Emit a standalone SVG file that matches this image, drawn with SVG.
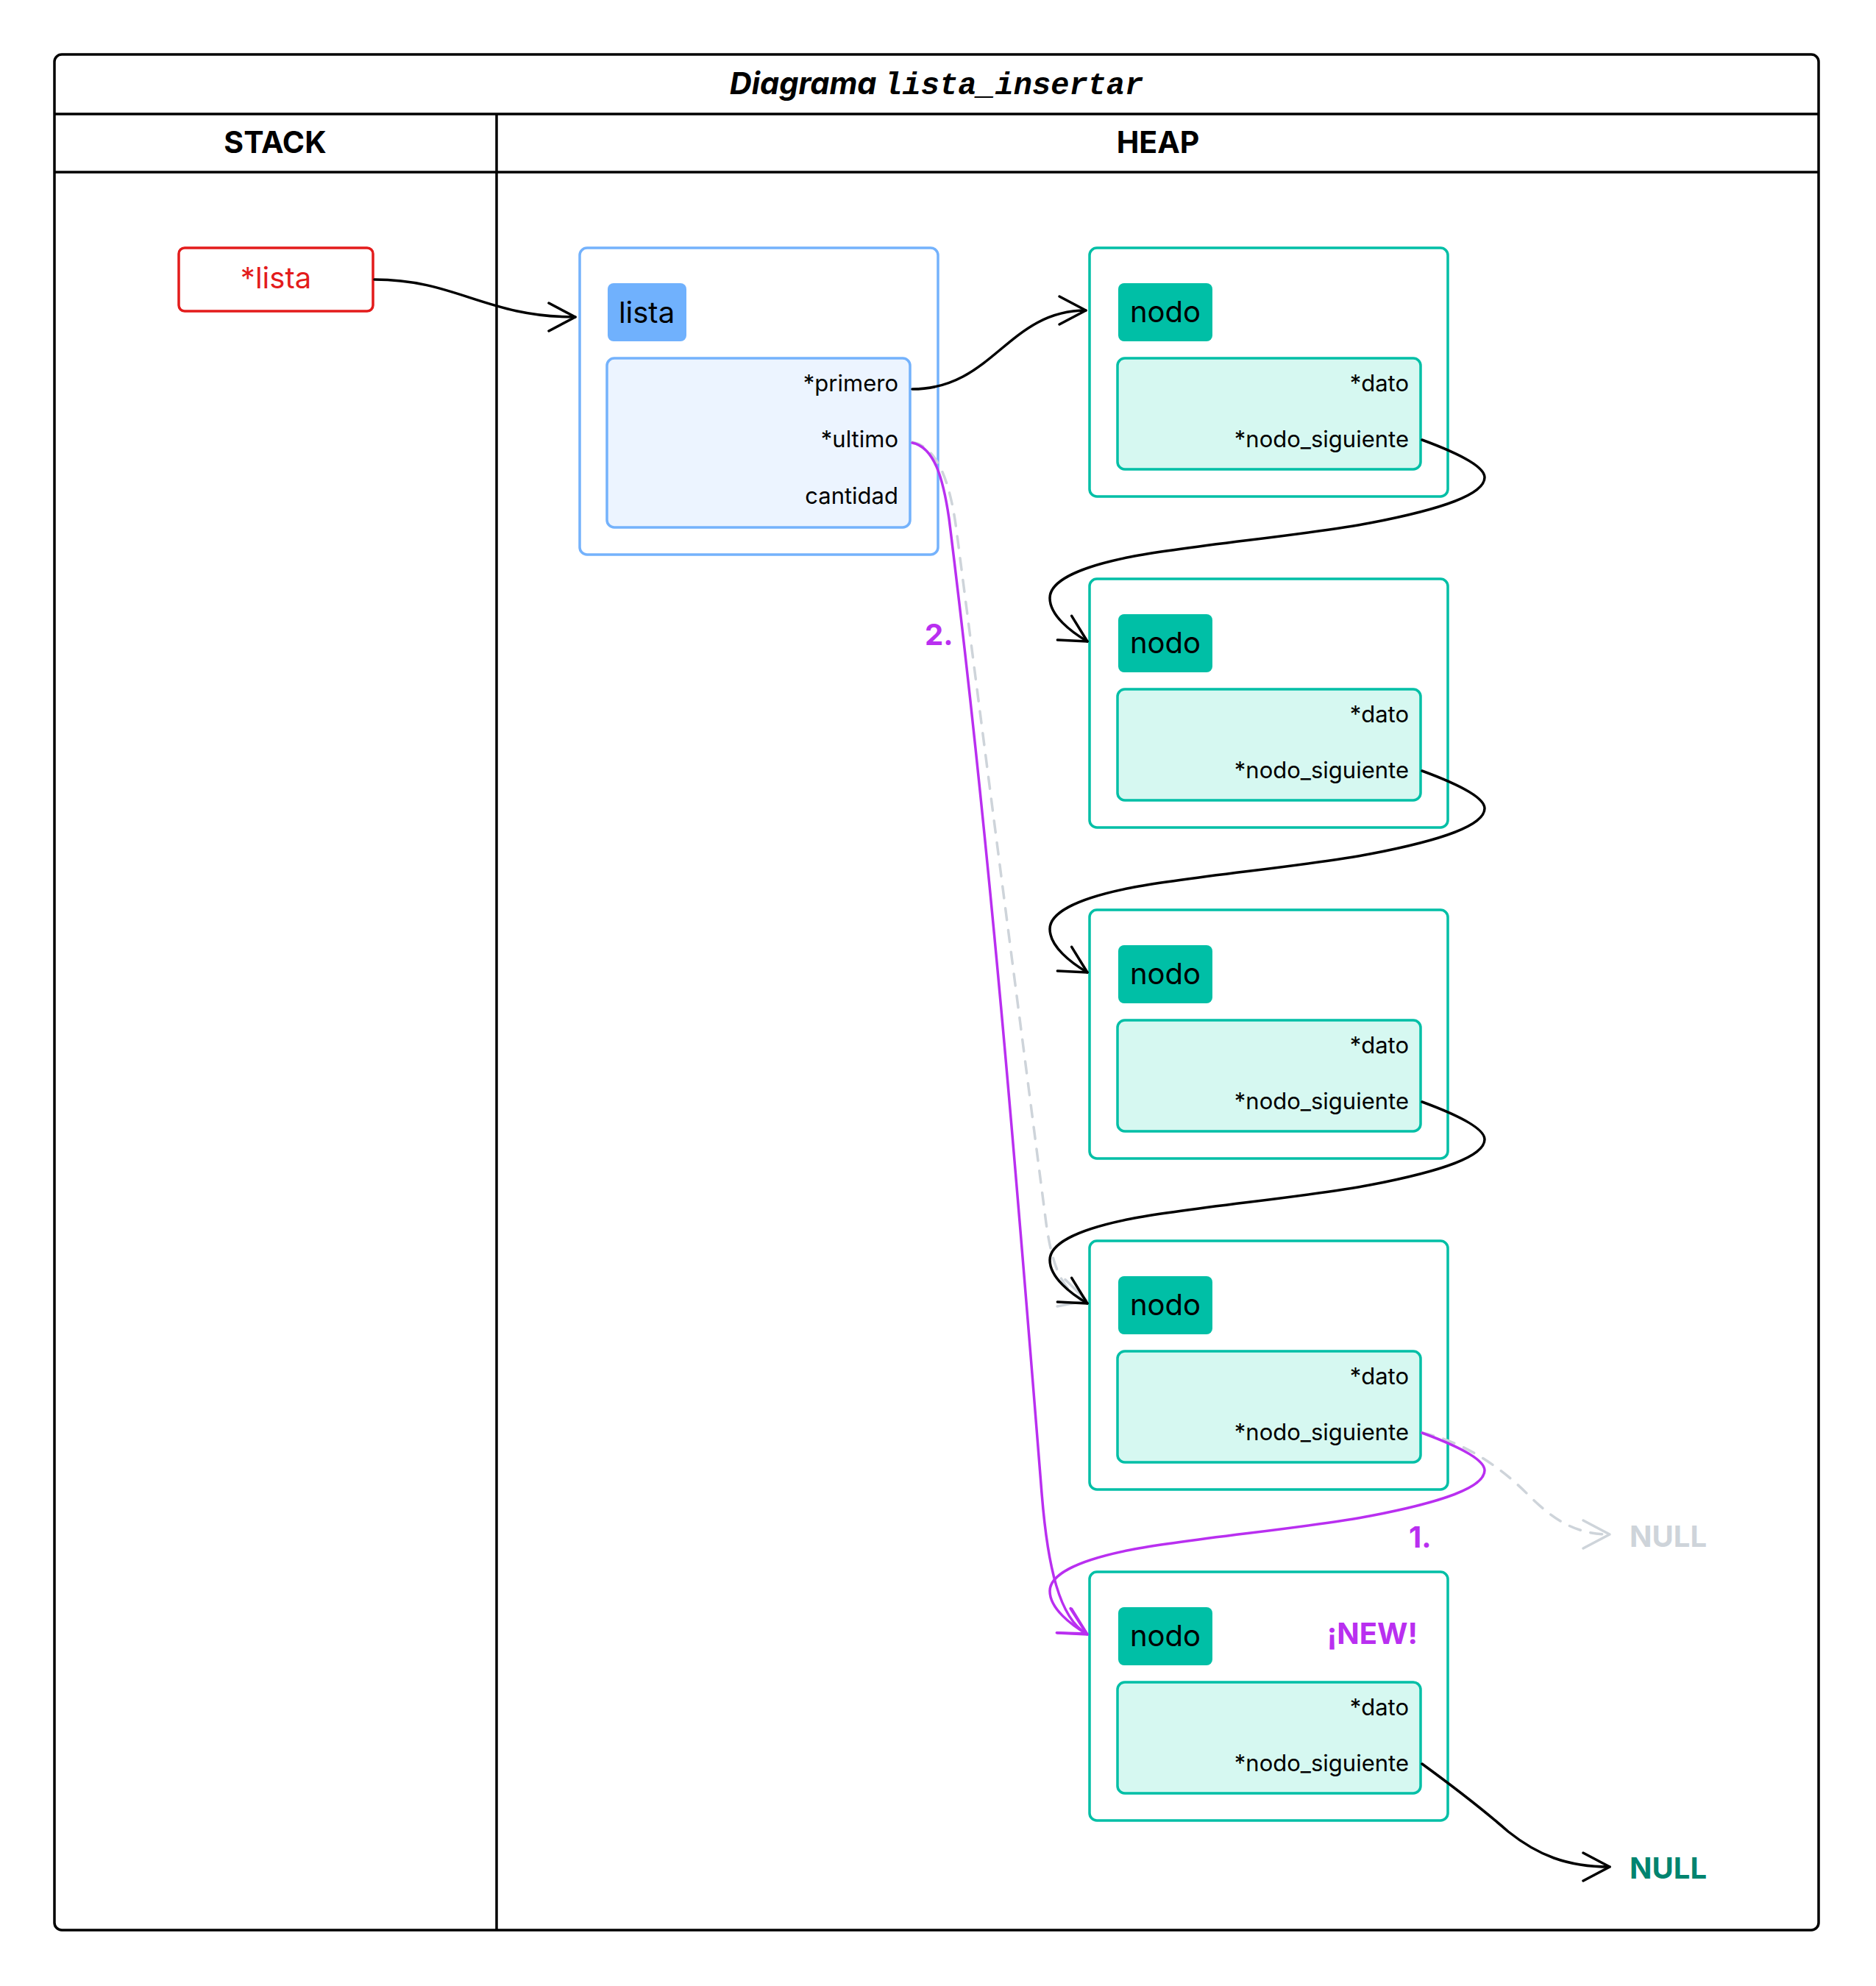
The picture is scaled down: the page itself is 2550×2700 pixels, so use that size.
<svg xmlns="http://www.w3.org/2000/svg" width="2550" height="2700" viewBox="0 0 2550 2700">
  <style>
    .frame { fill: none; stroke: #000; stroke-width: 3.5; }
    .sans { font-family: Inter, "Liberation Sans", sans-serif; }
    .hdr { font-family: Inter, "Liberation Sans", sans-serif; font-size: 41px; font-weight: 700; text-anchor: middle; }
    .box-teal { fill: #fff; stroke: #00bfa6; stroke-width: 3.5; }
    .lbl-teal { fill: #00bfa6; }
    .fields-teal { fill: #d6f8f1; stroke: #00bfa6; stroke-width: 3.5; }
    .box-blue { fill: #fff; stroke: #74b2fc; stroke-width: 3.5; }
    .lbl-blue { fill: #70b1fd; }
    .fields-blue { fill: #ecf4ff; stroke: #74b2fc; stroke-width: 3.5; }
    .lbl-text { font-family: Inter, "Liberation Sans", sans-serif; font-size: 40px; fill: #000; text-anchor: middle; }
    .field { font-family: Inter, "Liberation Sans", sans-serif; font-size: 31px; fill: #000; text-anchor: end; }
    .conn { fill: none; stroke-width: 3.5; stroke-linecap: round; stroke-linejoin: round; }
    .c-black { stroke: #000; marker-end: url(#arrow-black); }
    .c-purple { stroke: #b92ff0; marker-end: url(#arrow-purple); }
    .c-gray { stroke: #ced4da; stroke-dasharray: 16 14; marker-end: url(#arrow-gray); }
    .tag { font-family: Inter, "Liberation Sans", sans-serif; font-size: 40px; font-weight: 700; }
  </style>
  <defs>
    <marker id="arrow-black" markerUnits="userSpaceOnUse" orient="auto" refX="0" refY="0" markerWidth="80" markerHeight="80" viewBox="-40 -40 80 80" overflow="visible">
      <path d="M -36 -19 L 0 0 L -36 19" fill="none" stroke="#000" stroke-width="3.5" stroke-linecap="round" stroke-linejoin="round"/>
    </marker>
    <marker id="arrow-purple" markerUnits="userSpaceOnUse" orient="auto" refX="0" refY="0" markerWidth="80" markerHeight="80" viewBox="-40 -40 80 80" overflow="visible">
      <path d="M -36 -19 L 0 0 L -36 19" fill="none" stroke="#b92ff0" stroke-width="3.5" stroke-linecap="round" stroke-linejoin="round"/>
    </marker>
    <marker id="arrow-gray" markerUnits="userSpaceOnUse" orient="auto" refX="0" refY="0" markerWidth="80" markerHeight="80" viewBox="-40 -40 80 80" overflow="visible">
      <path d="M -36 -19 L 0 0 L -36 19" fill="none" stroke="#ced4da" stroke-width="3.5" stroke-dasharray="none" stroke-linecap="round" stroke-linejoin="round"/>
    </marker>
  </defs>

  <rect width="2550" height="2700" fill="#fff"/>

  <!-- swimlane frame: title row, column headers, STACK / HEAP columns -->
  <g id="frame">
    <rect class="frame" x="74" y="74" width="2398" height="2550" rx="10"/>
    <line class="frame" x1="74" y1="155" x2="2472" y2="155"/>
    <line class="frame" x1="74" y1="234" x2="2472" y2="234"/>
    <line class="frame" x1="675" y1="155" x2="675" y2="2624"/>
    <text x="1273" y="128" text-anchor="middle" font-weight="700" font-style="italic"><tspan font-family="Inter, 'Liberation Sans', sans-serif" font-size="41.5">Diagrama </tspan><tspan font-family="'Liberation Mono', 'DejaVu Sans Mono', monospace" font-size="42">lista_insertar</tspan></text>
    <text class="hdr" x="374" y="208">STACK</text>
    <text class="hdr" x="1574" y="208">HEAP</text>
  </g>

  <!-- stack variable -->
  <g id="ptr-lista">
    <rect x="243" y="337" width="264" height="86" rx="8" fill="#fff" stroke="#e31b1b" stroke-width="3.5"/>
    <text class="sans" x="375" y="392" font-size="40" fill="#e31b1b" text-anchor="middle">*lista</text>
  </g>

  <!-- lista struct -->
  <g id="lista" transform="translate(788,337)">
    <rect class="box-blue" x="0" y="0" width="487" height="417" rx="10"/>
    <rect class="lbl-blue" x="38" y="48" width="107" height="79" rx="8"/>
    <text class="lbl-text" x="91" y="102">lista</text>
    <rect class="fields-blue" x="37" y="150" width="412" height="230" rx="10"/>
    <text class="field" x="433" y="195">*primero</text>
    <text class="field" x="433" y="271">*ultimo</text>
    <text class="field" x="433" y="348">cantidad</text>
  </g>

  <!-- list nodes -->
  <g id="nodo1" transform="translate(1481,337)">
    <rect class="box-teal" x="0" y="0" width="487" height="338" rx="10"/>
    <rect class="lbl-teal" x="39" y="48" width="128" height="79" rx="8"/>
    <text class="lbl-text" x="103" y="101">nodo</text>
    <rect class="fields-teal" x="38" y="150" width="412" height="151" rx="10"/>
    <text class="field" x="434" y="195">*dato</text>
    <text class="field" x="434" y="271">*nodo_siguiente</text>
  </g>
  <g id="nodo2" transform="translate(1481,787)">
    <rect class="box-teal" x="0" y="0" width="487" height="338" rx="10"/>
    <rect class="lbl-teal" x="39" y="48" width="128" height="79" rx="8"/>
    <text class="lbl-text" x="103" y="101">nodo</text>
    <rect class="fields-teal" x="38" y="150" width="412" height="151" rx="10"/>
    <text class="field" x="434" y="195">*dato</text>
    <text class="field" x="434" y="271">*nodo_siguiente</text>
  </g>
  <g id="nodo3" transform="translate(1481,1237)">
    <rect class="box-teal" x="0" y="0" width="487" height="338" rx="10"/>
    <rect class="lbl-teal" x="39" y="48" width="128" height="79" rx="8"/>
    <text class="lbl-text" x="103" y="101">nodo</text>
    <rect class="fields-teal" x="38" y="150" width="412" height="151" rx="10"/>
    <text class="field" x="434" y="195">*dato</text>
    <text class="field" x="434" y="271">*nodo_siguiente</text>
  </g>
  <g id="nodo4" transform="translate(1481,1687)">
    <rect class="box-teal" x="0" y="0" width="487" height="338" rx="10"/>
    <rect class="lbl-teal" x="39" y="48" width="128" height="79" rx="8"/>
    <text class="lbl-text" x="103" y="101">nodo</text>
    <rect class="fields-teal" x="38" y="150" width="412" height="151" rx="10"/>
    <text class="field" x="434" y="195">*dato</text>
    <text class="field" x="434" y="271">*nodo_siguiente</text>
  </g>
  <g id="nodo-new" transform="translate(1481,2137)">
    <rect class="box-teal" x="0" y="0" width="487" height="338" rx="10"/>
    <rect class="lbl-teal" x="39" y="48" width="128" height="79" rx="8"/>
    <text class="lbl-text" x="103" y="101">nodo</text>
    <text class="tag" x="446" y="98" fill="#b92ff0" text-anchor="end">¡NEW!</text>
    <rect class="fields-teal" x="38" y="150" width="412" height="151" rx="10"/>
    <text class="field" x="434" y="195">*dato</text>
    <text class="field" x="434" y="271">*nodo_siguiente</text>
  </g>

  <!-- NULL terminals -->
  <g id="null-old">
    <text class="tag" x="2215" y="2103" fill="#ced4da">NULL</text>
  </g>
  <g id="null-new">
    <text class="tag" x="2215" y="2554" fill="#00846f">NULL</text>
  </g>

  <!-- connectors -->
  <g id="connectors">
    <!-- previous links, now replaced -->
    <path class="conn c-gray" d="M 1240 601 C 1276 608, 1292 660, 1300 720 L 1422 1663 C 1432 1735, 1450 1760, 1477 1768"/>
    <path class="conn c-gray" d="M 1933 1948 C 1990 1960, 2040 1995, 2075 2030 C 2110 2065, 2140 2086, 2188 2086"/>

    <path class="conn c-black" d="M 509 380 C 620 380, 660 431, 782 431"/>
    <path class="conn c-black" d="M 1240 529 C 1350 529, 1370 422, 1476 422"/>
    <path class="conn c-black" d="M 1933 598 C 1971 612, 2018 632, 2018 649 C 2018 672, 1961 692, 1862 711 C 1781 727, 1611 742, 1537 757 C 1461 772, 1427 792, 1427 813 C 1427 837, 1456 859, 1478 872"/>
    <path class="conn c-black" d="M 1933 1048 C 1971 1062, 2018 1082, 2018 1099 C 2018 1122, 1961 1142, 1862 1161 C 1781 1177, 1611 1192, 1537 1207 C 1461 1222, 1427 1242, 1427 1263 C 1427 1287, 1456 1309, 1478 1322"/>
    <path class="conn c-black" d="M 1933 1498 C 1971 1512, 2018 1532, 2018 1549 C 2018 1572, 1961 1592, 1862 1611 C 1781 1627, 1611 1642, 1537 1657 C 1461 1672, 1427 1692, 1427 1713 C 1427 1737, 1456 1759, 1478 1772"/>
    <path class="conn c-black" d="M 1933 2398 C 1970 2425, 2010 2455, 2050 2490 C 2090 2522, 2130 2538, 2188 2538"/>

    <!-- new links -->
    <path class="conn c-purple" d="M 1933 1948 C 1971 1962, 2018 1982, 2018 1999 C 2018 2022, 1961 2042, 1862 2061 C 1781 2077, 1611 2092, 1537 2107 C 1461 2122, 1427 2142, 1427 2163 C 1427 2187, 1456 2209, 1478 2222"/>
    <path class="conn c-purple" d="M 1240 602 C 1270 608, 1282 650, 1290 705 C 1345 1145, 1381 1590, 1416 2030 C 1424 2130, 1440 2200, 1477 2221"/>

    <text class="tag" x="1915" y="2104" fill="#b92ff0">1.</text>
    <text class="tag" x="1257" y="877" fill="#b92ff0">2.</text>
  </g>
</svg>
